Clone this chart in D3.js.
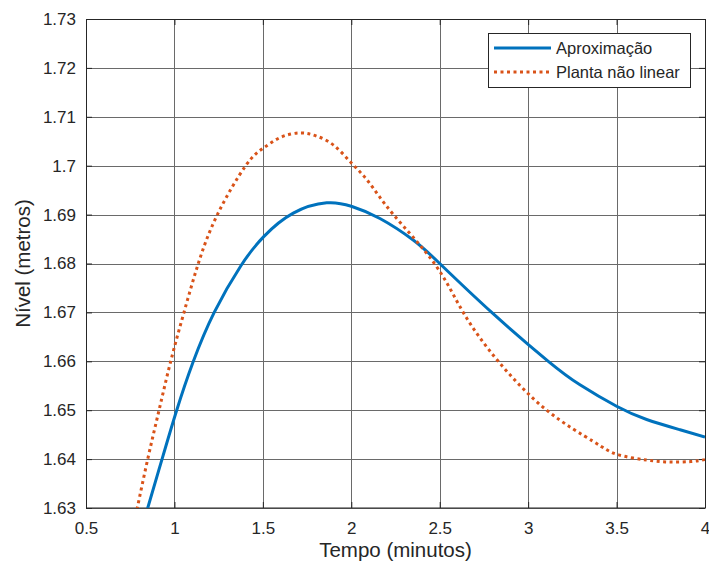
<!DOCTYPE html>
<html>
<head>
<meta charset="utf-8">
<script src="https://cdn.jsdelivr.net/npm/d3@7"></script>
<style>
  body { margin: 0; background: #fff; }
  svg text { font-family: "Liberation Sans", Arial, Helvetica, sans-serif; fill: #262626; }
</style>
</head>
<body>
<div id="chart"></div>
<script>
// values
const tempoAprox = [0.80, 0.849, 0.930, 1.012, 1.105, 1.225, 1.375, 1.505, 1.672, 1.861, 2.0, 2.162, 2.35, 2.50, 2.794, 3.114, 3.293, 3.5, 3.67, 3.859, 4.0];
const nivelAprox = [1.6240, 1.6300, 1.6400, 1.6499, 1.6598, 1.6700, 1.6795, 1.6855, 1.6903, 1.6924, 1.6917, 1.6892, 1.6848, 1.6800, 1.6700, 1.6600, 1.6552, 1.6508, 1.6481, 1.6460, 1.6445];

const tempoPlanta = [0.75, 0.790, 0.849, 0.913, 0.979, 1.054, 1.135, 1.243, 1.403, 1.503, 1.60, 1.71, 1.80, 1.90, 2.002, 2.10, 2.238, 2.47, 2.633, 2.831, 3.105, 3.369, 3.5, 3.67, 3.80, 3.92, 4.0];
const nivelPlanta = [1.6232, 1.6300, 1.6400, 1.6500, 1.6600, 1.6700, 1.6800, 1.6900, 1.7000, 1.7036, 1.7058, 1.7067, 1.7061, 1.7042, 1.7005, 1.6966, 1.6900, 1.6800, 1.6700, 1.6600, 1.6500, 1.6436, 1.6410, 1.6398, 1.6394, 1.6395, 1.6399];

const xTicks = [0.5, 1, 1.5, 2, 2.5, 3, 3.5, 4];
const yTicks = [1.63, 1.64, 1.65, 1.66, 1.67, 1.68, 1.69, 1.70, 1.71, 1.72, 1.73];
const seriesNames = ["Aproximação", "Planta não linear"];

const margin = {top: 19, right: 4, bottom: 57, left: 86};
const size = {width: 709, height: 565};
const width = size.width - margin.left - margin.right;
const height = size.height - margin.top - margin.bottom;

const svg = d3.select("#chart").append("svg")
    .attr("width", size.width)
    .attr("height", size.height);

const g = svg.append("g")
    .attr("transform", "translate(" + margin.left + "," + margin.top + ")");

const xScale = d3.scaleLinear().domain([0.5, 4]).range([0, width]);
const yScale = d3.scaleLinear().domain([1.63, 1.73]).range([height, 0]);

// grid
g.append("g").selectAll("line").data(xTicks).join("line")
    .attr("x1", d => Math.round(xScale(d)) + 0.5).attr("x2", d => Math.round(xScale(d)) + 0.5)
    .attr("y1", 0).attr("y2", height)
    .attr("stroke", "#6a6a6a").attr("stroke-width", 1);
g.append("g").selectAll("line").data(yTicks).join("line")
    .attr("y1", d => Math.round(yScale(d)) + 0.5).attr("y2", d => Math.round(yScale(d)) + 0.5)
    .attr("x1", 0).attr("x2", width)
    .attr("stroke", "#6a6a6a").attr("stroke-width", 1);

// axes (MATLAB style: ticks inside)
const fmt = d => String(+d.toFixed(2));
const xAxis = d3.axisBottom(xScale).tickValues(xTicks).tickSize(-6).tickPadding(14).tickFormat(fmt);
const yAxis = d3.axisLeft(yScale).tickValues(yTicks).tickSize(-6).tickPadding(10).tickFormat(fmt);

const xAxisG = g.append("g").attr("class", "xAxisG")
    .attr("transform", "translate(0," + height + ")").call(xAxis);
const yAxisG = g.append("g").attr("class", "yAxisG").call(yAxis);
g.append("g")
    .call(d3.axisTop(xScale).tickValues(xTicks).tickSize(-6).tickFormat(""));
g.append("g").attr("transform", "translate(" + width + ",0)")
    .call(d3.axisRight(yScale).tickValues(yTicks).tickSize(-6).tickFormat(""));

g.selectAll(".domain").remove();
g.selectAll(".tick line").attr("stroke", "#262626");
xAxisG.selectAll("text").style("font-size", "17px").attr("fill", "#262626");
yAxisG.selectAll("text").style("font-size", "17px").attr("fill", "#262626");

// box
g.append("rect")
    .attr("x", 0.5).attr("y", 0.5)
    .attr("width", width).attr("height", height - 0.5)
    .attr("fill", "none").attr("stroke", "#262626").attr("stroke-width", 1);

// clip + lines
g.append("clipPath").attr("id", "clip")
    .append("rect").attr("width", width).attr("height", height);

const line = d3.line()
    .x(d => xScale(d[0]))
    .y(d => yScale(d[1]))
    .curve(d3.curveNatural);

const aproxData = d3.zip(tempoAprox, nivelAprox);
const plantaData = d3.zip(tempoPlanta, nivelPlanta);

const plot = g.append("g").attr("clip-path", "url(#clip)");
plot.append("path").datum(aproxData)
    .attr("d", line)
    .attr("fill", "none").attr("stroke", "#0072BD").attr("stroke-width", 3);
plot.append("path").datum(plantaData)
    .attr("d", line)
    .attr("fill", "none").attr("stroke", "#D95319").attr("stroke-width", 3)
    .attr("stroke-dasharray", "3,3.5");

// axis labels
svg.append("text")
    .attr("x", margin.left + width / 2).attr("y", 557)
    .attr("text-anchor", "middle").style("font-size", "20.5px")
    .text("Tempo (minutos)");
svg.append("text")
    .attr("transform", "translate(30," + (margin.top + height / 2) + ") rotate(-90)")
    .attr("text-anchor", "middle").style("font-size", "20.5px")
    .text("Nível (metros)");

// legend
const legend = svg.append("g").attr("transform", "translate(488,33)");
legend.append("rect")
    .attr("x", 0.5).attr("y", 0.5).attr("width", 202).attr("height", 54)
    .attr("fill", "#fff").attr("stroke", "#262626").attr("stroke-width", 1);
const styles = [{color: "#0072BD", dash: null}, {color: "#D95319", dash: "3,3.5"}];
seriesNames.forEach((name, i) => {
    const yy = 15 + i * 24;
    legend.append("line")
        .attr("x1", 6).attr("x2", 63).attr("y1", yy).attr("y2", yy)
        .attr("stroke", styles[i].color).attr("stroke-width", 3)
        .attr("stroke-dasharray", styles[i].dash);
    legend.append("text")
        .attr("x", 68).attr("y", yy + 6)
        .style("font-size", "16.5px")
        .text(name);
});
</script>
</body>
</html>
